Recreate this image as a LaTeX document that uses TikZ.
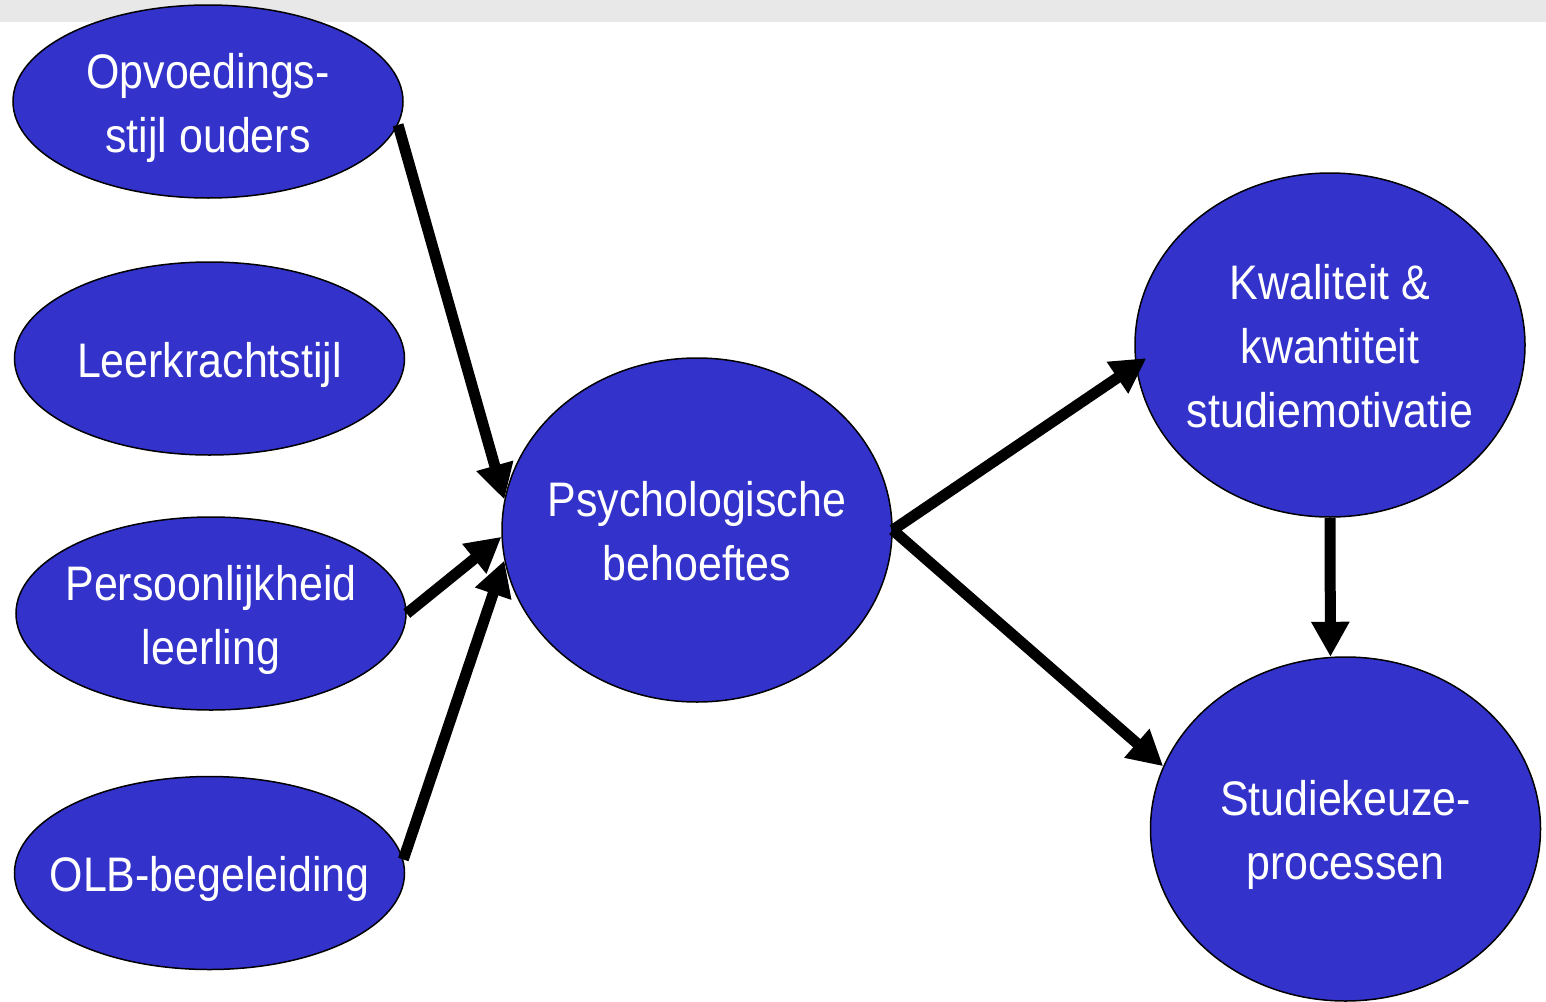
\documentclass[tikz,border=0pt]{standalone}
\usepackage{fontspec}
\setmainfont{Liberation Sans}[FakeStretch=0.885]
\usetikzlibrary{shapes.geometric,arrows.meta}
\definecolor{bubblefill}{RGB}{51,51,204}
\definecolor{topbar}{RGB}{232,232,232}
% centred multi-line label that does not widen its ellipse, set a little low
\newcommand{\bubbletext}[1]{\makebox[0pt]{\raisebox{-6pt}[\height][\depth]{\begin{tabular}{@{}c@{}}#1\end{tabular}}}}
\begin{document}
\begin{tikzpicture}[x=1pt,y=-1pt,
  bubble/.style={ellipse, draw=black, line width=1.5pt, fill=bubblefill,
    text=white, inner sep=0pt, font=\fontsize{48.5}{64}\selectfont},
  small/.style={bubble, minimum width=390pt, minimum height=193pt},
  big/.style={bubble, minimum width=390pt, minimum height=344pt},
  flow/.style={line width=11pt, -{Triangle[length=35pt,width=36pt]}}]
\useasboundingbox (0,0) rectangle (1546,1001);
% grey strip along the top edge
\fill[topbar] (0,0) rectangle (1546,22);

% influencing factors
\node[small] (op)  at (208,101.5) {\bubbletext{Opvoedings-\\stijl ouders}};
\node[small] (lk)  at (209.5,358.5) {\bubbletext{Leerkrachtstijl}};
\node[small] (pe)  at (211,613.5) {\bubbletext{Persoonlijkheid\\leerling}};
\node[small] (olb) at (209.5,873) {\bubbletext{OLB-begeleiding}};

% central and outcome variables
\node[big] (ps) at (697,530) {\bubbletext{Psychologische\\behoeftes}};
\node[big] (kw) at (1330,345) {\bubbletext{Kwaliteit \&\\kwantiteit\\studiemotivatie}};
\node[big] (st) at (1345.5,829) {\bubbletext{Studiekeuze-\\processen}};

% paths of influence
\draw[flow] (op.-7.6) -- (ps.171.7);
\draw[flow] (pe.0.5) -- (ps.182);
\draw[flow] (olb.4) -- (ps.189.7);
\draw[flow, shorten >=-13pt] (ps.0.9) -- (kw.186.5);
\draw[flow] (ps.-0.9) -- (st.161.9);
\draw[flow] (kw.270) -- (st.95.1);
\end{tikzpicture}
\end{document}
